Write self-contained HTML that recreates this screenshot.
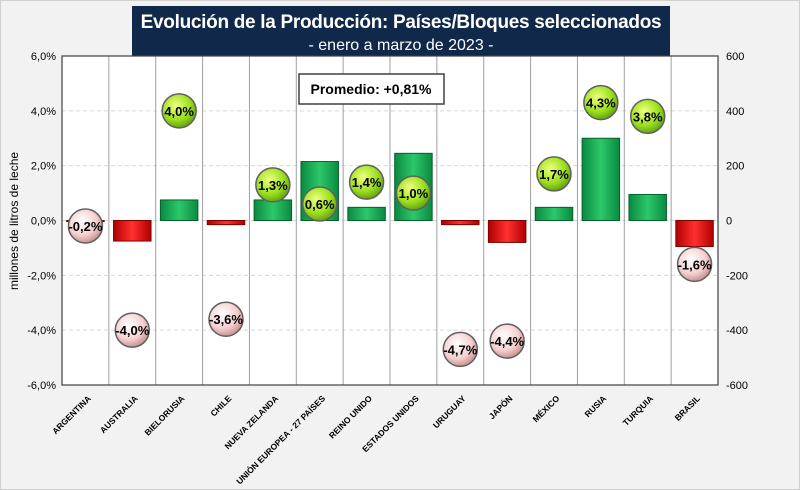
<!DOCTYPE html>
<html><head><meta charset="utf-8"><style>
body{margin:0;background:#fff}
#wrap{position:relative;width:800px;height:490px;background:#f2f2f2;font-family:"Liberation Sans",sans-serif;overflow:hidden;border:1px solid #d0d0d0;box-sizing:border-box}
#title{position:absolute;left:131px;top:5px;width:538px;height:57px;background:#10284a;color:#fff;text-align:center;white-space:nowrap}
</style></head><body>
<div id="wrap">
<div id="title">
<div style="font-weight:bold;font-size:19px;padding-top:6px;letter-spacing:-0.3px">Evolución de la Producción: Países/Bloques seleccionados</div>
<div style="font-size:16px;margin-top:3px">- enero a marzo de 2023 -</div>
</div>
<svg id="svg" width="800" height="490" style="position:absolute;left:0;top:0">
<defs>
<linearGradient id="gG" x1="0" x2="1"><stop offset="0" stop-color="#0a8a40"/><stop offset="0.5" stop-color="#2cc86a"/><stop offset="1" stop-color="#0a8a40"/></linearGradient>
<linearGradient id="gR" x1="0" x2="1"><stop offset="0" stop-color="#b00000"/><stop offset="0.5" stop-color="#ff3030"/><stop offset="1" stop-color="#b00000"/></linearGradient>
<radialGradient id="bG" cx="0.4" cy="0.35" r="0.7"><stop offset="0" stop-color="#f0ff80"/><stop offset="0.6" stop-color="#9be01e"/><stop offset="1" stop-color="#5a9a10"/></radialGradient>
<radialGradient id="bR" cx="0.4" cy="0.35" r="0.7"><stop offset="0" stop-color="#ffffff"/><stop offset="0.6" stop-color="#f6d0d0"/><stop offset="1" stop-color="#c08888"/></radialGradient>
</defs>
</svg>
</div>
<script>
const categories=["ARGENTINA","AUSTRALIA","BIELORUSIA","CHILE","NUEVA ZELANDA","UNIÓN EUROPEA - 27 PAÍSES","REINO UNIDO","ESTADOS UNIDOS","URUGUAY","JAPÓN","MÉXICO","RUSIA","TURQUIA","BRASIL"];
const volumes=[-3,-75,75,-15,75,215,48,245,-15,-80,48,300,95,-95];
const pcts=[-0.2,-4.0,4.0,-3.6,1.3,0.6,1.4,1.0,-4.7,-4.4,1.7,4.3,3.8,-1.6];
const leftTicks=[6,4,2,0,-2,-4,-6];
const rightTicks=[600,400,200,0,-200,-400,-600];
const NS="http://www.w3.org/2000/svg";
const svg=document.getElementById('svg');
const X0=61,X1=717,Y0=55,Y1=384;
const yL=v=>Y0+(6-v)/12*(Y1-Y0);
const yR=v=>Y0+(600-v)/1200*(Y1-Y0);
const bw=(X1-X0)/categories.length;
const xC=i=>X0+bw*(i+0.5);
function mk(t,a,p){const e=document.createElementNS(NS,t);for(const k in a)e.setAttribute(k,a[k]);(p||svg).appendChild(e);return e;}
const plot=mk('rect',{x:X0,y:Y0,width:X1-X0,height:Y1-Y0,fill:'#fff'});


leftTicks.forEach(t=>{
 const l=mk('line',{x1:X0,x2:X1,y1:yL(t),y2:yL(t),stroke:'#d8d8d8','stroke-dasharray':'4,3'});
 
 
 const tx=mk('text',{x:X0-6,y:yL(t)+4,'text-anchor':'end','font-size':11,fill:'#000'});
 tx.textContent=t.toFixed(1).replace('.',',')+'%';
 
 
});
rightTicks.forEach(t=>{
 const tx=mk('text',{x:X1+8,y:yR(t)+4,'font-size':11,fill:'#000'});
 tx.textContent=t;
 
 
});
for(let i=1;i<categories.length;i++){
 const l=mk('line',{x1:X0+bw*i,x2:X0+bw*i,y1:Y0,y2:Y1,stroke:'#a0a0a0'});
 
 
}
const z=yR(0);
volumes.forEach((v,i)=>{
 const y=Math.min(z,yR(v)),h=Math.abs(yR(v)-z);
 const r=mk('rect',{x:xC(i)-bw*0.4,y:y,width:bw*0.8,height:Math.max(h,1),fill:v>=0?'url(#gG)':'url(#gR)',stroke:v>=0?'#06602c':'#800000','stroke-width':1});
 
 
});
mk('rect',{x:X0,y:Y0,width:X1-X0,height:Y1-Y0,fill:'none',stroke:'#404040','stroke-width':1.2});
pcts.forEach((p,i)=>{
 const g=mk('g',{});
 
 
 mk('circle',{cx:xC(i),cy:yL(p),r:17,fill:p>=0?'url(#bG)':'url(#bR)',stroke:'#606060','stroke-width':1.5},g);
 const t=mk('text',{x:xC(i),y:yL(p)+5,'text-anchor':'middle','font-size':13,'font-weight':'bold',fill:'#000'},g);
 t.textContent=p.toFixed(1).replace('.',',')+'%';
});
categories.forEach((c,i)=>{
 const x=xC(i)+6,y=Y1+14;
 const t=mk('text',{x:x,y:y,'text-anchor':'end','font-size':8.5,'font-weight':'bold',fill:'#000',transform:`rotate(-45 ${x} ${y})`});
 t.textContent=c;
 
 
});
const yt=mk('text',{x:17,y:220,'text-anchor':'middle','font-size':12,fill:'#000',transform:'rotate(-90 17 220)'});
yt.textContent='millones de litros de leche';


const pg=mk('g',{});


mk('rect',{x:298,y:73,width:145,height:30,fill:'#fff',stroke:'#404040','stroke-width':1.5},pg);
const pt=mk('text',{x:370,y:93,'text-anchor':'middle','font-size':14,'font-weight':'bold',fill:'#000'},pg);
pt.textContent='Promedio: +0,81%';
</script>
</body></html>
